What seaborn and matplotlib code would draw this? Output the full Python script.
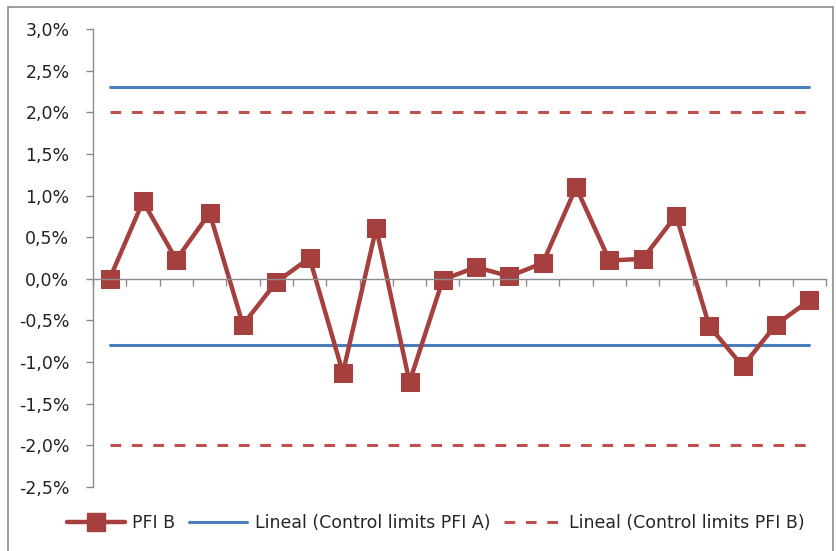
import matplotlib
matplotlib.use("Agg")
import matplotlib.pyplot as plt
from matplotlib.patches import Rectangle
from matplotlib.lines import Line2D
import numpy as np
import pandas as pd
import seaborn as sns

# Monthly PFI B deviation (%) and control limits
periods = list(range(1, 23))
pfi_b = [0.00, 0.93, 0.23, 0.79, -0.55, -0.04, 0.25, -1.13, 0.61, -1.24, -0.01,
         0.14, 0.03, 0.19, 1.10, 0.22, 0.24, 0.76, -0.57, -1.05, -0.55, -0.26]
limits_a = [2.3, -0.8]
limits_b = [2.0, -2.0]
y_ticks = [-2.5, -2.0, -1.5, -1.0, -0.5, 0.0, 0.5, 1.0, 1.5, 2.0, 2.5, 3.0]

sns.set_style("white")
plt.rcParams["font.family"] = ["DejaVu Sans"]

W, H = 837, 551
fig = plt.figure(figsize=(W / 100, H / 100), dpi=100)
ax = fig.add_axes([93 / W, 1 - 487 / H, (826 - 93) / W, (487 - 29) / H])

red = "#A5403E"
blue = "#4A7EBB"
red_dash = "#C0504D"

df = pd.DataFrame({"period": periods, "value": pfi_b})

for lvl in limits_a:
    sns.lineplot(x=periods, y=[lvl] * len(periods), ax=ax, color=blue, lw=2.2,
                 legend=False)
for lvl in limits_b:
    sns.lineplot(x=periods, y=[lvl] * len(periods), ax=ax, color=red_dash, lw=2.2,
                 linestyle=(0, (3.5, 3.5)), legend=False)

sns.lineplot(data=df, x="period", y="value", ax=ax, color=red, lw=3.2,
             marker="s", markersize=12.5, markeredgecolor=red, legend=False)

ax.set_xlim(0.5, len(periods) + 0.5)
ax.set_ylim(-2.5, 3.0)
ax.set_yticks(y_ticks)
ax.set_yticklabels([f"{v:.1f}%".replace(".", ",") for v in y_ticks],
                   fontsize=12.5, color="#222222")
ax.set_xticks(np.arange(0.5, len(periods) + 1, 1.0))
ax.set_xticklabels([])
ax.set_xlabel("")
ax.set_ylabel("")

ax.spines["top"].set_visible(False)
ax.spines["right"].set_visible(False)
ax.spines["bottom"].set_position(("data", 0))
for s in ("left", "bottom"):
    ax.spines[s].set_color("#8C8C8C")
    ax.spines[s].set_linewidth(1.0)
ax.tick_params(axis="y", which="both", direction="out", length=5, width=1,
               color="#8C8C8C", left=True, pad=12)
ax.tick_params(axis="x", which="both", direction="out", length=5, width=1,
               color="#8C8C8C", bottom=True)
ax.set_zorder(1)
ax.patch.set_alpha(0)

handles = [
    Line2D([], [], color=red, lw=3.2, marker="s", markersize=12.5),
    Line2D([], [], color=blue, lw=2.2),
    Line2D([], [], color=red_dash, lw=2.2, linestyle=(0, (3.5, 3.5))),
]
labels = ["PFI B", "Lineal (Control limits PFI A)", "Lineal (Control limits PFI B)"]
fig.legend(handles, labels, loc="center", bbox_to_anchor=(436 / W, 1 - 523 / H),
           ncol=3, frameon=False, handlelength=3.3,
           columnspacing=0.8, handletextpad=0.45,
           prop={"family": "DejaVu Sans", "size": 12.5})

# Chart area border
fig.patches.append(Rectangle((8 / W, -0.01), (833 - 8) / W, 1 - 7 / H + 0.01,
                             transform=fig.transFigure, fill=False,
                             edgecolor="#8C8C8C", lw=1.2))

fig.savefig("out.png", dpi=100)
